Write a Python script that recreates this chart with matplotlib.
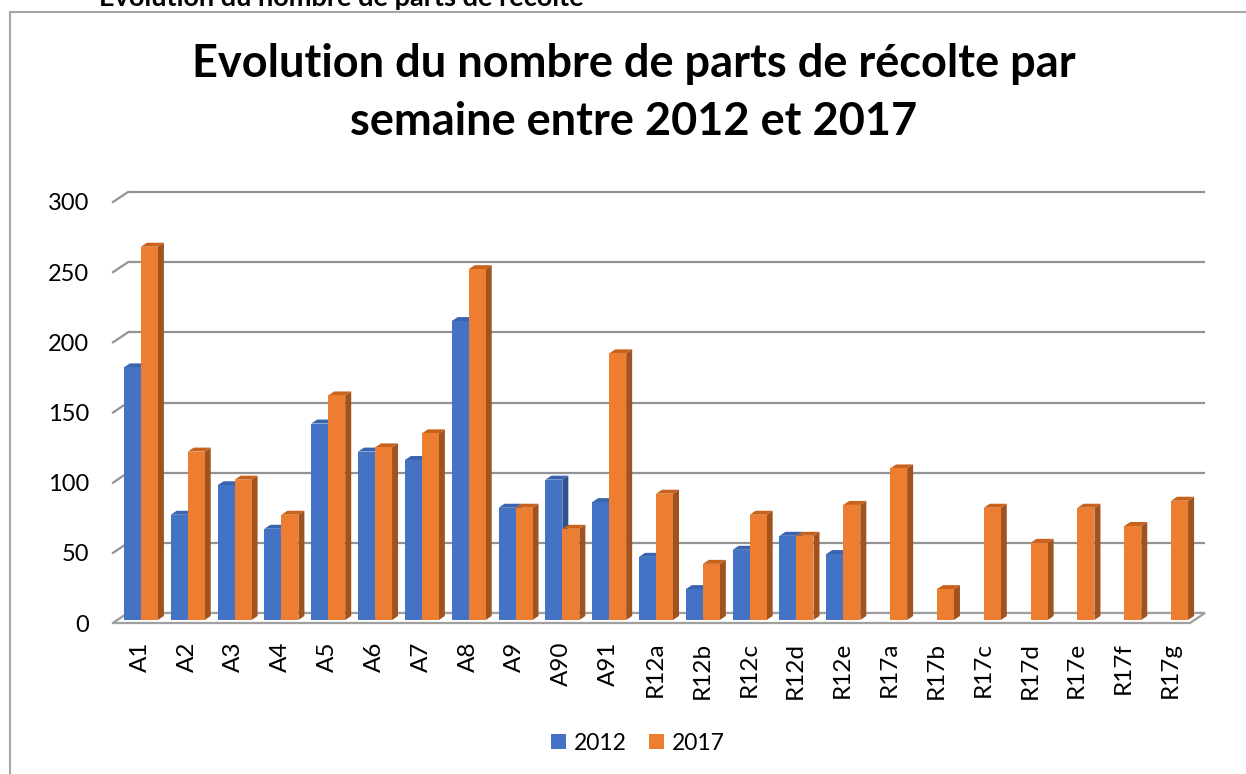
import numpy as np
import matplotlib
matplotlib.use("Agg")
import matplotlib.pyplot as plt
from matplotlib.patches import Polygon, Patch
from matplotlib.lines import Line2D

plt.rcParams['font.family'] = ['Lato', 'DejaVu Sans']

'''Data read off the chart'''
categories = ["A1", "A2", "A3", "A4", "A5", "A6", "A7", "A8", "A9", "A90", "A91",
              "R12a", "R12b", "R12c", "R12d", "R12e",
              "R17a", "R17b", "R17c", "R17d", "R17e", "R17f", "R17g"]
nan = np.nan
values_2012 = [180, 75, 96, 65, 140, 120, 114, 213, 80, 100, 84, 45, 22, 50, 60, 47,
               nan, nan, nan, nan, nan, nan, nan]
values_2017 = [266, 120, 100, 75, 160, 123, 133, 250, 80, 65, 190, 90, 40, 75, 60, 82,
               108, 22, 80, 55, 80, 67, 85]
series_names = ["2012", "2017"]
y_ticks = [0, 50, 100, 150, 200, 250, 300]

W, H = 1246, 774
fig = plt.figure(figsize=(W/100, H/100), dpi=100)

# axes covers the front plane of the 3D box
x_left, x_right, y_bottom, y_top = 113, 1190, 623, 202
ax = fig.add_axes([x_left/W, 1 - y_bottom/H, (x_right - x_left)/W, (y_bottom - y_top)/H])
n = len(categories)
ax.set_xlim(-0.5, n - 0.5)
ax.set_ylim(0, 300)
for s in ax.spines.values():
    s.set_visible(False)
ax.patch.set_visible(False)

# depth of the box (15 px right, 10 px up) in data units
px_x = (x_right - x_left) / n
px_y = (y_bottom - y_top) / 300
ddx = 15 / px_x
ddy = 10 / px_y

grid_col = "#939393"
# back wall gridlines + side wall diagonals
for v in y_ticks:
    ax.plot([-0.5 + ddx, n - 0.5 + ddx], [v + ddy, v + ddy], color=grid_col, lw=1.6,
            zorder=1, clip_on=False, solid_capstyle='butt')
    ax.plot([-0.5, -0.5 + ddx], [v, v + ddy], color=grid_col, lw=1.6,
            zorder=1, clip_on=False)

# floor
floor = Polygon([(-0.5, 0), (n - 0.5, 0), (n - 0.5 + ddx, ddy), (-0.5 + ddx, ddy)],
                closed=True, facecolor="white", edgecolor="#a0a0a0", lw=1.6,
                zorder=1.5, clip_on=False)
ax.add_patch(floor)

# bars
bar_w = 0.363
f0, f1 = 0.3, 0.7
colors = {
    "2012": ("#4472C4", "#3A64AE", "#2E5190"),
    "2017": ("#ED7D31", "#C8621C", "#A0521F"),
}
x = np.arange(n)
for i in range(n):
    for k, (name, vals) in enumerate(zip(series_names, [values_2012, values_2017])):
        v = vals[i]
        if np.isnan(v):
            continue
        front, top, side = colors[name]
        xl = x[i] - bar_w + k * bar_w
        xr = xl + bar_w
        ox0, oy0 = f0 * ddx, f0 * ddy
        ox1, oy1 = f1 * ddx, f1 * ddy
        z = 2 + i * 0.01 + k * 0.001
        ax.add_patch(Polygon([(xr + ox0, oy0), (xr + ox1, oy1), (xr + ox1, v + oy1),
                              (xr + ox0, v + oy0)], closed=True, facecolor=side,
                             edgecolor='none', zorder=z, clip_on=False))
        ax.add_patch(Polygon([(xl + ox0, v + oy0), (xr + ox0, v + oy0), (xr + ox1, v + oy1),
                              (xl + ox1, v + oy1)], closed=True, facecolor=top,
                             edgecolor='none', zorder=z, clip_on=False))
        ax.add_patch(Polygon([(xl + ox0, oy0), (xr + ox0, oy0), (xr + ox0, v + oy0),
                              (xl + ox0, v + oy0)], closed=True, facecolor=front,
                             edgecolor='none', zorder=z, clip_on=False))

# ticks
ax.set_yticks(y_ticks)
ax.set_yticklabels([str(t) for t in y_ticks], fontsize=17)
ax.tick_params(axis='y', length=0, pad=17)
ax.set_xticks(x + 0.08)
ax.set_xticklabels(categories, rotation=90, fontsize=17.5, va='top', ha='center')
ax.tick_params(axis='x', length=0, pad=13.5)

# title
fig.text(634/W, 1 - 77/H, "Evolution du nombre de parts de récolte par", ha='center',
         va='baseline', fontsize=32.5, fontweight='bold')
fig.text(634/W, 1 - 135/H, "semaine entre 2012 et 2017", ha='center',
         va='baseline', fontsize=32.5, fontweight='bold')

# caption cut off at the top of the picture
fig.text(99/W, 1 - 6/H, "Evolution du nombre de parts de récolte", ha='left',
         va='baseline', fontsize=19.5, fontweight='bold')

# chart frame (left and top edges only, the rest lies outside the picture)
frame_col = '#a6a6a6'
fig.add_artist(Line2D([10/W, 10/W], [0, 1 - 12/H], transform=fig.transFigure,
                      color=frame_col, lw=1.5))
fig.add_artist(Line2D([10/W, 1.02], [1 - 12/H, 1 - 12/H], transform=fig.transFigure,
                      color=frame_col, lw=1.5))

# legend
handles = [Patch(facecolor=colors[s][0], edgecolor='none') for s in series_names]
fig.legend(handles, series_names, loc='center', bbox_to_anchor=(638/W, 1 - 743/H),
           ncol=2, frameon=False, fontsize=16.5, handlelength=0.65, handleheight=0.65,
           handletextpad=0.35, columnspacing=0.95)

fig.savefig("out.png", dpi=100, facecolor='white')
